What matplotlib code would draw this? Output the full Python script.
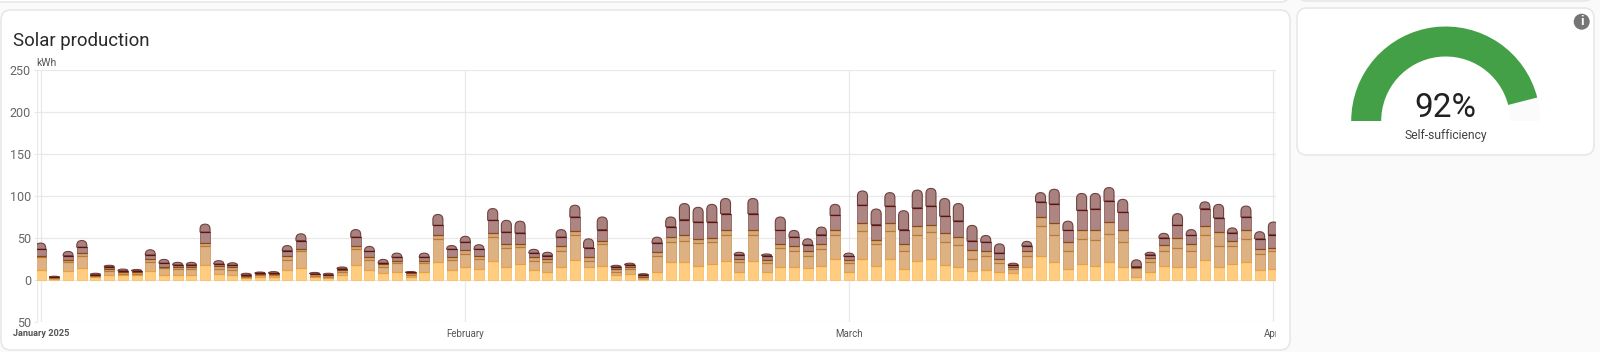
import numpy as np
import pandas as pd
import matplotlib
matplotlib.use("Agg")
import matplotlib.pyplot as plt
import matplotlib.dates as mdates
from matplotlib.patches import FancyBboxPatch, PathPatch, Wedge, Circle
from matplotlib.path import Path
from matplotlib.transforms import Bbox, TransformedBbox

plt.rcParams["font.family"] = ["Roboto", "DejaVu Sans"]

# values: upper edge of each stacked layer, one per day
days = pd.date_range("2025-01-01", periods=91)
top1 = [12, 1, 10.5, 14, 3, 6, 5.5, 5.5, 11, 6.5, 6.5, 6.5, 18, 7, 6, 2.5, 3, 3, 11.5, 14.5, 3, 2.5, 5.5, 17.5, 12, 8, 10, 3, 9.5, 22,
        12, 15, 13, 23, 16, 19, 12, 10, 16, 24, 16, 17, 5.5, 7, 1.5, 10, 21, 21, 17, 19, 23, 10, 23, 10, 15, 15, 14, 17, 25,
        10, 25, 17, 24.5, 13.5, 23, 24.5, 17.5, 16, 11, 12.5, 9, 8, 15, 29, 22, 13, 19, 17, 21, 16, 4, 10, 17, 16, 15, 23.5, 15.5, 19, 21, 12, 13]
top2 = [27, 2, 21, 29, 4.5, 11, 7.5, 7.5, 22, 14, 13, 13, 41, 13.5, 12, 4, 5.5, 5.5, 24, 35, 5, 4, 10, 37, 24, 16, 20, 6, 20, 49,
        24, 31, 25, 51, 38.5, 39, 23, 21, 35, 54, 23, 42.5, 10, 13, 3, 28, 45, 47, 44, 45, 54, 21, 54, 20, 38, 34, 29, 37, 54,
        20, 58, 42.5, 58, 34.5, 54, 57, 45, 42, 25.5, 28.5, 20, 13, 29, 64, 53, 34, 48.5, 48, 55, 45, 14, 21, 35, 38, 34.5, 53, 41, 40, 49, 31, 34.5]
top3 = [29, 3, 24, 32, 5.5, 13.5, 9, 9, 25, 16, 16, 16, 43.5, 16.5, 16, 5, 7, 7, 28, 37, 7, 5.5, 12.5, 41, 27, 18.5, 23, 8, 23, 53,
        27, 36, 29, 56, 43, 43, 27, 25, 40, 58, 27, 46, 13, 15, 4, 33, 51, 53, 49, 50, 59, 25, 59, 24, 43, 40.5, 34.5, 42.5, 60,
        24, 67.5, 48, 67.5, 43, 64, 66, 55.5, 51.5, 36, 35, 24.5, 15, 34, 75, 67.5, 45, 60, 59.5, 69, 59, 15, 26, 42, 50, 42.5, 64, 57, 47, 60, 37, 38.5]
top4 = [36.5, 3.5, 29, 39, 6.5, 16, 11, 11, 30, 20, 18, 18, 57, 19, 17.5, 6, 8, 8, 35, 47, 7.5, 6.5, 13.5, 51, 34, 20, 27, 9, 27, 65,
        36.5, 45, 36.5, 71, 57, 56, 32, 29, 51, 75, 38.5, 60, 15.5, 18, 6, 44, 63.5, 72, 69, 69, 79, 30, 79, 29, 59, 51, 42, 54, 77,
        28, 89, 66, 88, 60, 86, 88, 76, 70.5, 46.5, 45, 32, 17.5, 40.5, 93, 90.5, 59, 83, 84.5, 94, 80.5, 16, 30, 50, 65, 53, 85, 74, 56, 75, 49, 54]
top5 = [44, 4.5, 34, 47, 8, 17.5, 13, 12.5, 36, 24.5, 21, 21, 66.5, 23, 20.5, 8, 9.5, 10, 41, 55, 9, 8, 15.5, 60, 40, 24.5, 32, 10, 32, 78,
        41, 52, 42, 85, 71, 70, 36.5, 33, 60, 89, 49, 75, 17.5, 20, 7.5, 51, 75, 91, 86.5, 90, 97, 33, 97, 31, 75, 59, 49, 63, 90,
        32, 106, 84.5, 104, 82.5, 107, 109, 97, 91, 65, 53, 43, 20, 46, 104, 108, 70, 103, 103, 110, 96, 24, 33, 55.5, 79, 60, 93, 90, 62, 88, 57.5, 69]

layers = [top1, top2, top3, top4, top5]
fills = ["#ffcc80", "#deb183", "#d6a87e", "#ad8683", "#a98280"]
sides = ["#fbbf66", "#cf9c62", "#c08f5e", "#8d5f5c", "#6e413e"]
lines = ["#e9a040", "#b87a35", "#8a4a12", "#5c1410", "#4a1512"]

y_ticks = [250, 200, 150, 100, 50, 0, -50]
y_labels = ["250", "200", "150", "100", "50", "0", "50"]
month_ticks = ["2025-01-01", "2025-02-01", "2025-03-01", "2025-04-01"]
month_labels = ["January 2025", "February", "March", "April"]
gauge_value = 92

W, H = 1600, 352
fig = plt.figure(figsize=(W / 100, H / 100), dpi=100, facecolor="#fafafa")

# fundo com os cartoes, em coordenadas de pixel
bg = fig.add_axes([0, 0, 1, 1], zorder=0)
bg.set_xlim(0, W)
bg.set_ylim(H, 0)
bg.axis("off")


def card(x0, y0, x1, y1):
    bg.add_patch(FancyBboxPatch((x0 + 8, y0 + 8), x1 - x0 - 16, y1 - y0 - 16, boxstyle="round,pad=8,rounding_size=10",
                                fc="white", ec="#e8e8e8", lw=1.2))


card(-40, -60, 1290, 2)
card(1297, -60, 1594, 1)
card(1, 10, 1290, 350)
card(1297, 8, 1594, 155)
bg.text(13, 41, "Solar production", fontsize=13.4, color="#2a2a2a", va="center", ha="left")

# grafico de barras
left, right, y_top, y_bottom = 37.3, 1276, 70, 322
ax = fig.add_axes([left / W, 1 - y_bottom / H, (right - left) / W, (y_bottom - y_top) / H], zorder=1)
ax.patch.set_alpha(0)
x = mdates.date2num(days)
px_day = (right - left) / 90.44
ax.set_xlim(x[0] - (40.7 - left) / px_day, x[0] + (right - 40.7) / px_day)
ax.set_ylim(-50, 250)
for s in ax.spines.values():
    s.set_visible(False)
ax.set_yticks(y_ticks, y_labels)
ax.tick_params(axis="y", length=2.5, width=0.8, color="#e8e8e8", labelsize=9, labelcolor="#666666", pad=2)
grid_color = "#e8e8e8"
ax.grid(axis="y", color=grid_color, lw=0.9)
ax.set_axisbelow(True)

ticks = mdates.date2num(pd.to_datetime(month_ticks))
ax.set_xticks(ticks, [])
ax.tick_params(axis="x", length=0)
ax.grid(axis="x", color=grid_color, lw=0.9)
ax.axvline(ax.get_xlim()[0], color=grid_color, lw=0.9, zorder=0)
ax.axvline(ax.get_xlim()[1], color=grid_color, lw=0.9, zorder=0)

limit = TransformedBbox(Bbox([[0, 0], [right / W, 1]]), fig.transFigure)
trans = ax.get_xaxis_transform()
for i, (t, label) in enumerate(zip(ticks, month_labels)):
    txt = ax.text(t, -0.026, label, transform=trans, ha="center", va="top", fontsize=6.6 if i == 0 else 7,
                  color="#555555", fontweight="bold" if i == 0 else "normal", clip_on=True)
    txt.set_clip_box(limit)
ax.text(36 / px_day + x[0] - 40.7 / px_day, 252, "kWh", fontsize=7.5, color="#555555", va="bottom", ha="left",
        clip_on=False)

bar_w = 10 / px_day
bottom = np.zeros(len(days))
for n, (vals, fc, ec, lc) in enumerate(zip(layers, fills, sides, lines)):
    vals = np.array(vals, dtype=float)
    if n < 4:
        ax.bar(x, vals - bottom, bar_w, bottom=bottom, color=fc, edgecolor=ec, lw=0.6, zorder=3 + n)
        ax.hlines(vals, x - bar_w / 2, x + bar_w / 2, color=lc, lw=0.9, zorder=10 + n)
    else:
        # a ultima camada tem os cantos de cima arredondados
        for xi, b, v in zip(x, bottom, vals):
            rx = 5 / px_day
            ry = min(5 / 0.84, v - b)
            x0, x1 = xi - bar_w / 2, xi + bar_w / 2
            verts = [(x0, b), (x0, v - ry), (x0, v), (x0 + rx, v), (x1 - rx, v), (x1, v), (x1, v - ry), (x1, b), (x0, b)]
            codes = [Path.MOVETO, Path.LINETO, Path.CURVE3, Path.CURVE3, Path.LINETO, Path.CURVE3, Path.CURVE3,
                     Path.LINETO, Path.CLOSEPOLY]
            ax.add_patch(PathPatch(Path(verts, codes), fc=fc, ec=ec, lw=0.8, zorder=3 + n))
    bottom = vals

# medidor
fg = fig.add_axes([0, 0, 1, 1], zorder=2)
fg.set_xlim(0, W)
fg.set_ylim(0, H)
fg.axis("off")
cx, cy, r_out, r_w = 1445.7, H - 121, 94.5, 30
end = 180 - gauge_value / 100 * 180
fg.add_patch(Wedge((cx, cy), r_out, 0, end, width=r_w, fc="#fbfbfb", ec="none"))
fg.add_patch(Wedge((cx, cy), r_out, end, 180, width=r_w, fc="#43a047", ec="none"))
fg.text(cx, H - 108, f"{gauge_value}%", fontsize=24, color="#212121", ha="center", va="center")
fg.text(cx, H - 135, "Self-sufficiency", fontsize=8.7, color="#424242", ha="center", va="center")
fg.add_patch(Circle((1581.7, H - 21.7), 8, fc="#757575", ec="none"))
fg.text(1581.7, H - 21.7, "i", fontsize=9.5, fontweight="bold", color="white", ha="center", va="center")

fig.savefig("out.png", dpi=100, facecolor=fig.get_facecolor())
